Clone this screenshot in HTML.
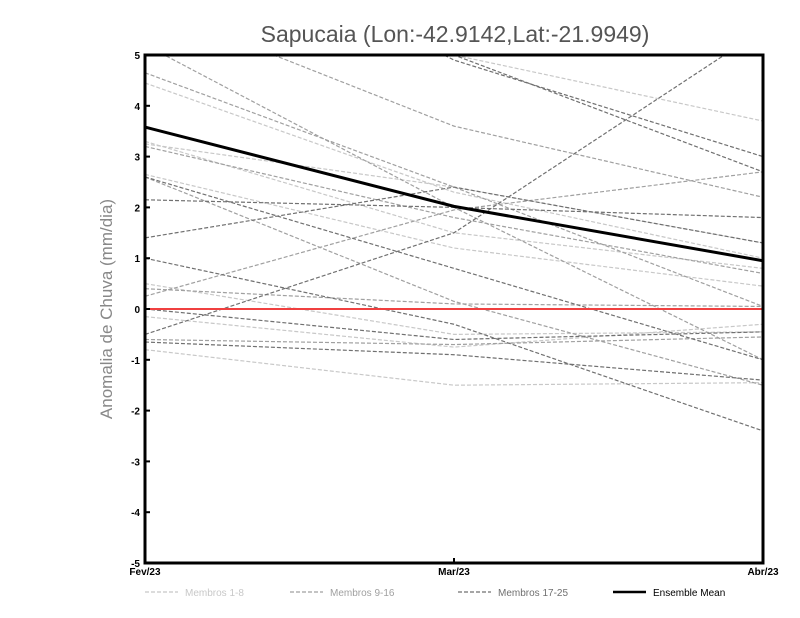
<!DOCTYPE html>
<html><head><meta charset="utf-8"><style>
body{margin:0;background:#fff}
svg{display:block;font-family:"Liberation Sans",sans-serif}
</style></head><body>
<svg id="chart" width="800" height="618">
<defs><clipPath id="plotclip"><rect x="145" y="55" width="618" height="508"/></clipPath></defs>
<text x="455" y="42" text-anchor="middle" font-size="23" fill="#555">Sapucaia (Lon:-42.9142,Lat:-21.9949)</text>
<text transform="translate(112,309) rotate(-90)" text-anchor="middle" font-size="17" fill="#888">Anomalia de Chuva (mm/dia)</text>
<g id="series" clip-path="url(#plotclip)"></g>
<g id="axes"></g>
<g id="legend"></g>
</svg>
<script>
const categories = ["Fev/23","Mar/23","Abr/23"];
const yTicks = [-5,-4,-3,-2,-1,0,1,2,3,4,5];
const membros1_8 = [
 [4.45,2.3,1.0],[3.3,1.5,0.8],[3.25,2.4,1.3],[2.65,1.2,0.45],
 [0.5,-0.5,-0.45],[-0.15,-0.75,-0.3],[-0.8,-1.5,-1.45],[5.5,5.0,3.7]
];
const membros9_16 = [
 [4.65,2.4,0.05],[2.6,0.15,-1.5],[0.25,1.95,2.7],[0.4,0.1,0.05],
 [-0.6,-0.7,-0.55],[3.2,1.8,0.7],[6.0,3.6,2.2],[5.2,2.0,-1.0]
];
const membros17_25 = [
 [2.15,2.0,1.8],[1.4,2.4,1.3],[-0.5,1.5,5.5],[2.6,0.8,-1.0],
 [-0.65,-0.9,-1.4],[7.0,5.0,2.7],[8.0,4.9,3.0],[0.0,-0.6,-0.45],[1.0,-0.3,-2.4]
];
const ensembleMean = [3.58,2.02,0.95];

const X0=145,X1=763,Y0=563,Y1=55;
const xs=i=>X0+(X1-X0)*i/(categories.length-1);
const ys=v=>Y0-(v+5)/10*(Y0-Y1);
const NS="http://www.w3.org/2000/svg";
const mk=(t,a,p)=>{const e=document.createElementNS(NS,t);for(const k in a)e.setAttribute(k,a[k]);p.appendChild(e);return e;};
const S=document.getElementById('series'),A=document.getElementById('axes'),L=document.getElementById('legend');
const pts=arr=>arr.map((v,i)=>xs(i)+","+ys(v)).join(" ");
function drawGroup(data,color,name){
 data.forEach((d,j)=>{
  const e=mk('polyline',{points:pts(d),fill:'none',stroke:color,'stroke-width':1.2,'stroke-dasharray':'4,2'},S);
  
  
 });
}
drawGroup(membros1_8,'#c8c8c8','membro-light');
drawGroup(membros9_16,'#a0a0a0','membro-medium');
drawGroup(membros17_25,'#707070','membro-dark');
const z=mk('line',{x1:X0,x2:X1,y1:ys(0),y2:ys(0),stroke:'#f04040','stroke-width':2},S);


const m=mk('polyline',{points:pts(ensembleMean),fill:'none',stroke:'#000','stroke-width':3},S);


const fr=mk('rect',{x:X0,y:Y1,width:X1-X0,height:Y0-Y1,fill:'none',stroke:'#000','stroke-width':3},A);


yTicks.forEach(v=>{
 mk('line',{x1:X0,x2:X0+5,y1:ys(v),y2:ys(v),stroke:'#000','stroke-width':2},A);
 const t=mk('text',{x:X0-5,y:ys(v)+4,'text-anchor':'end','font-size':10,'font-weight':'bold'},A);
 t.textContent=v;
 
 
});
categories.forEach((c,i)=>{
 mk('line',{x1:xs(i),x2:xs(i),y1:Y0,y2:Y0-5,stroke:'#000','stroke-width':2},A);
 const t=mk('text',{x:xs(i),y:Y0+12,'text-anchor':'middle','font-size':10,'font-weight':'bold'},A);
 t.textContent=c;
 
 
});
const leg=[["Membros 1-8","#c8c8c8",145,1.2,'4,2'],["Membros 9-16","#a0a0a0",290,1.2,'4,2'],["Membros 17-25","#707070",458,1.2,'4,2'],["Ensemble Mean","#000",613,2.5,'']];
leg.forEach(l=>{
 mk('line',{x1:l[2],x2:l[2]+33,y1:592,y2:592,stroke:l[1],'stroke-width':l[3],'stroke-dasharray':l[4]},L);
 const t=mk('text',{x:l[2]+40,y:596,'font-size':10,fill:l[1]==='#000'?'#000':l[1]},L);
 t.textContent=l[0];
 
 
});
</script>
</body></html>
